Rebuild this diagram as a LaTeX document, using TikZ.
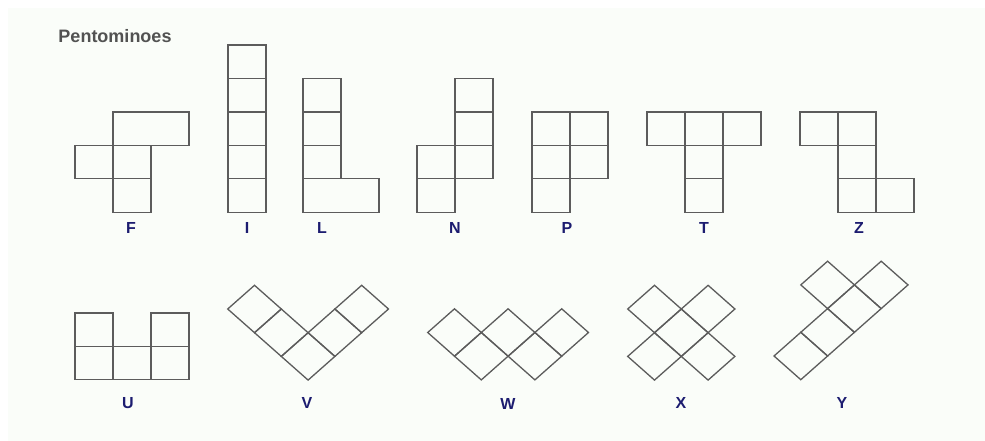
\documentclass[tikz,border=0pt]{standalone}
\usepackage{fontspec}
\setmainfont{Liberation Sans}
\definecolor{bgc}{RGB}{250,253,249}
\definecolor{ln}{RGB}{92,92,92}
\definecolor{lab}{RGB}{28,28,112}
\definecolor{ttl}{RGB}{82,82,82}
\newcommand\scell[2]{\draw[cl] (#1,#2) rectangle ++(38,33.45);}
\newcommand\dcell[2]{\draw[cl] (#1,#2) -- ++(1,0) -- ++(0,1) -- ++(-1,0) -- cycle;}
\begin{document}
\begin{tikzpicture}[x=1pt,y=-1pt,
  cl/.style={draw=ln, line width=1.3pt, line join=miter},
  lbl/.style={font=\fontsize{16}{16}\selectfont\bfseries, text=lab, inner sep=0pt},
  ttlstyle/.style={font=\fontsize{18}{18}\selectfont\bfseries, text=ttl, inner sep=0pt},
  diag/.style={x={(26.8pt,-23.7pt)}, y={(26.8pt,23.7pt)}}]
\useasboundingbox (0,0) rectangle (985,441);
\fill[white] (0,0) rectangle (985,441);
\fill[bgc] (8,8) rectangle (985,441);
\node[ttlstyle] (title) at (115,36) {Pentominoes};
% F
\draw[cl] (113,111.9) rectangle (189,145.35);
\scell{75}{145.35}\scell{113}{145.35}\scell{113}{178.8}
% I
\scell{228}{45}\scell{228}{78.45}\scell{228}{111.9}\scell{228}{145.35}\scell{228}{178.8}
% L
\scell{303}{78.45}\scell{303}{111.9}\scell{303}{145.35}
\draw[cl] (303,178.8) rectangle (379,212.25);
% N
\scell{455}{78.45}\scell{455}{111.9}\scell{455}{145.35}
\scell{417}{145.35}\scell{417}{178.8}
% P
\scell{532}{111.9}\scell{532}{145.35}\scell{532}{178.8}
\scell{570}{111.9}\scell{570}{145.35}
% T
\scell{647}{111.9}\scell{685}{111.9}\scell{723}{111.9}
\scell{685}{145.35}\scell{685}{178.8}
% Z
\scell{800}{111.9}\scell{838}{111.9}\scell{838}{145.35}\scell{838}{178.8}\scell{876}{178.8}
% U
\draw[cl] (75,313) rectangle ++(38,33.3);
\draw[cl] (75,346.3) rectangle ++(38,33.3);
\draw[cl] (113,346.3) rectangle ++(38,33.3);
\draw[cl] (151,313) rectangle ++(38,33.3);
\draw[cl] (151,346.3) rectangle ++(38,33.3);
% V
\begin{scope}[shift={(227.7,309)}, diag]
\dcell{0}{0}\dcell{1}{0}\dcell{2}{0}\dcell{2}{1}\dcell{2}{2}
\end{scope}
% W
\begin{scope}[shift={(427.7,332.5)}, diag]
\dcell{0}{0}\dcell{1}{0}\dcell{1}{1}\dcell{2}{1}\dcell{2}{2}
\end{scope}
% X
\begin{scope}[shift={(600.9,332.7)}, diag]
\dcell{1}{1}\dcell{0}{1}\dcell{2}{1}\dcell{1}{0}\dcell{1}{2}
\end{scope}
% Y
\begin{scope}[shift={(774,356)}, diag]
\dcell{0}{0}\dcell{0}{1}\dcell{0}{2}\dcell{0}{3}\dcell{-1}{2}
\end{scope}
% labels
\node[lbl] (lF) at (131,228) {F};
\node[lbl] (lI) at (247,228) {I};
\node[lbl] (lL) at (322,228) {L};
\node[lbl] (lN) at (455,228) {N};
\node[lbl] (lP) at (567,228) {P};
\node[lbl] (lT) at (704,228) {T};
\node[lbl] (lZ) at (859,228) {Z};
\node[lbl] (lU) at (128,403) {U};
\node[lbl] (lV) at (307,403) {V};
\node[lbl] (lW) at (508,404) {W};
\node[lbl] (lX) at (681,403) {X};
\node[lbl] (lY) at (842,403) {Y};
\end{tikzpicture}
\end{document}
